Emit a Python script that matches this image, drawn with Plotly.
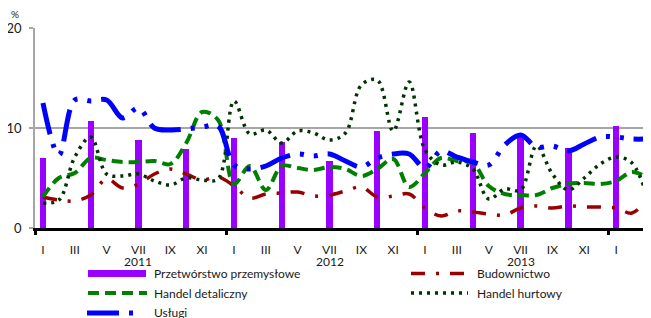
import plotly.graph_objects as go

# ---------------- data ----------------
month_idx = list(range(39))  # Jan 2011 .. Mar 2014
tick_idx = list(range(0, 39, 2))
tick_text = ["I", "III", "V", "VII", "IX", "XI"] * 3 + ["I", "III"]
years = ["2011", "2012", "2013"]
year_mid_idx = [6, 18, 30]
year_bound_idx = [-0.5, 11.5, 23.5, 35.5]

quarter_idx = list(range(0, 39, 3))
przetworstwo = [7.0, 10.7, 8.8, 7.9, 9.0, 8.6, 6.7, 9.7, 11.1, 9.5, 9.1, 8.0, 10.2]

budownictwo = [3.1, 2.8, 2.7, 3.3, 4.9, 4.0, 4.4, 5.4, 5.9, 5.4, 4.8, 5.1,
               4.2, 3.0, 3.4, 3.5, 3.6, 3.2, 3.3, 3.7, 4.1, 3.1, 3.2, 3.4,
               2.0, 1.2, 1.7, 1.6, 1.4, 1.3, 2.0, 2.2, 2.0, 2.2, 2.1, 2.1,
               2.0, 1.5, 3.0]

handel_detaliczny = [3.1, 5.0, 5.5, 7.0, 6.8, 6.6, 6.6, 6.7, 6.4, 8.5, 11.6, 10.8,
                     4.4, 6.2, 3.8, 6.2, 6.0, 5.8, 6.1, 5.9, 5.2, 5.9, 6.9, 4.1,
                     5.5, 7.0, 6.7, 6.5, 4.2, 3.4, 3.3, 3.3, 4.0, 4.4, 4.5, 4.4,
                     4.7, 5.6, 5.0]

handel_hurtowy = [2.5, 2.8, 7.1, 9.1, 5.4, 5.2, 5.4, 4.7, 4.3, 5.0, 4.8, 4.9,
                  12.7, 9.4, 9.8, 8.5, 9.7, 9.5, 8.8, 9.5, 14.3, 14.8, 9.7, 14.6,
                  7.8, 6.3, 6.6, 5.9, 2.9, 3.9, 3.8, 8.2, 5.4, 3.8, 5.0, 6.4,
                  7.1, 6.5, 2.9]

uslugi = [12.5, 7.3, 12.8, 12.7, 12.8, 11.0, 12.0, 10.0, 9.8, 9.9, 10.1, 10.2,
          6.3, 5.9, 6.2, 7.0, 7.4, 7.2, 7.4, 6.7, 6.1, 7.0, 7.4, 7.4,
          6.0, 7.7, 7.1, 6.6, 6.3, 8.3, 9.3, 8.1, 8.2, 7.7, 8.4, 9.1,
          9.1, 8.9, 8.9]

names = ["Przetwórstwo przemysłowe", "Budownictwo", "Handel detaliczny",
         "Handel hurtowy", "Usługi"]

# ---------------- styles ----------------
C_BAR = "#9900ff"
C_BUD = "#990000"
C_DET = "#008000"
C_HUR = "#003300"
C_USL = "#0000ff"
D_BUD = "14px,11px,3px,11px"
D_DET = "11px,6px"
D_HUR = "3px,5px"
D_USL = "32px,10px,4px,10px,4px,10px"
FONT = "Lato, 'Open Sans', sans-serif"
TXT = "#1a1a1a"

fig = go.Figure()
fig.add_trace(go.Bar(x=quarter_idx, y=przetworstwo, name=names[0], width=0.4,
                     marker=dict(color=C_BAR, line=dict(width=0))))
fig.add_trace(go.Scatter(x=month_idx, y=budownictwo, name=names[1], mode="lines",
                         line=dict(color=C_BUD, width=3.5, dash=D_BUD, shape="spline", smoothing=1)))
fig.add_trace(go.Scatter(x=month_idx, y=handel_detaliczny, name=names[2], mode="lines",
                         line=dict(color=C_DET, width=4, dash=D_DET, shape="spline", smoothing=1)))
fig.add_trace(go.Scatter(x=month_idx, y=handel_hurtowy, name=names[3], mode="lines",
                         line=dict(color=C_HUR, width=3.5, dash=D_HUR, shape="spline", smoothing=1)))
fig.add_trace(go.Scatter(x=month_idx, y=uslugi, name=names[4], mode="lines",
                         line=dict(color=C_USL, width=5, dash=D_USL, shape="spline", smoothing=1)))

# the page body has an 8px margin: the figure starts at (8, 8) in the window
OFF = 8
W, H = 651 - OFF, 318 - OFF
L, R, T, B = 35 - OFF, 0, 28 - OFF, 90
pw, ph = W - L - R, H - T - B


def px_x(px):
    return (px - OFF - L) / pw


def px_y(py):
    return (H - B - (py - OFF)) / ph


shapes = []
annotations = []
# manual legend
shapes.append(dict(type="rect", xref="paper", yref="paper", x0=px_x(88), x1=px_x(146),
                   y0=px_y(277), y1=px_y(270), fillcolor=C_BAR, line=dict(width=0)))
legend_lines = [
    (411, 467, 273.5, C_BUD, 3.5, D_BUD),
    (88, 147, 293, C_DET, 4, D_DET),
    (411, 468, 293, C_HUR, 3.5, D_HUR),
    (87, 139, 313, C_USL, 5, D_USL),
]
for x0, x1, yy, c, w, d in legend_lines:
    shapes.append(dict(type="line", xref="paper", yref="paper", x0=px_x(x0), x1=px_x(x1),
                       y0=px_y(yy), y1=px_y(yy), line=dict(color=c, width=w, dash=d)))
legend_text = [(152, 273.5, names[0]), (475, 273.5, names[1]), (152, 293, names[2]),
               (475, 293, names[3]), (152, 312, names[4])]
for tx, ty, t in legend_text:
    annotations.append(dict(xref="paper", yref="paper", x=px_x(tx), y=px_y(ty), text=t,
                            showarrow=False, xanchor="left", yanchor="middle",
                            font=dict(family=FONT, size=12, color=TXT)))
# year labels
for yi, yt in zip(year_mid_idx, years):
    annotations.append(dict(xref="x", yref="paper", x=yi, y=px_y(261.5), text=yt,
                            showarrow=False, xanchor="center", yanchor="middle",
                            font=dict(family=FONT, size=12, color=TXT)))
# percent sign
annotations.append(dict(xref="paper", yref="paper", x=px_x(15), y=px_y(14), text="%",
                        showarrow=False, xanchor="center", yanchor="middle",
                        font=dict(family=FONT, size=10, color=TXT)))

fig.update_layout(
    width=W, height=H, autosize=False,
    margin=dict(l=L, r=R, t=T, b=B, pad=0),
    paper_bgcolor="white", plot_bgcolor="white",
    showlegend=False, bargap=0,
    font=dict(family=FONT, size=12, color=TXT),
    shapes=shapes, annotations=annotations,
    xaxis=dict(range=[-0.5, -0.5 + pw / 15.92], tickmode="array", tickvals=tick_idx,
               ticktext=tick_text, ticks="", showgrid=False, zeroline=False,
               showline=True, linecolor="black", linewidth=3, automargin=False,
               ticklabelstandoff=9, ticklabeloverflow="allow",
               tickfont=dict(family=FONT, size=12, color=TXT),
               minor=dict(tickmode="array", tickvals=year_bound_idx, ticks="outside",
                          ticklen=4, tickwidth=3, tickcolor="black", showgrid=False)),
    yaxis=dict(range=[0, 20], tickvals=[0, 10, 20], ticks="outside", ticklen=4,
               tickcolor="#a6a6a6", tickwidth=1.5, showgrid=True, gridcolor="#a6a6a6",
               gridwidth=1.5, zeroline=False, showline=True, linecolor="#a6a6a6",
               linewidth=1.5, automargin=False, ticklabelstandoff=5,
               tickfont=dict(family=FONT, size=13, color=TXT)),
)

fig.write_html("out.html")
